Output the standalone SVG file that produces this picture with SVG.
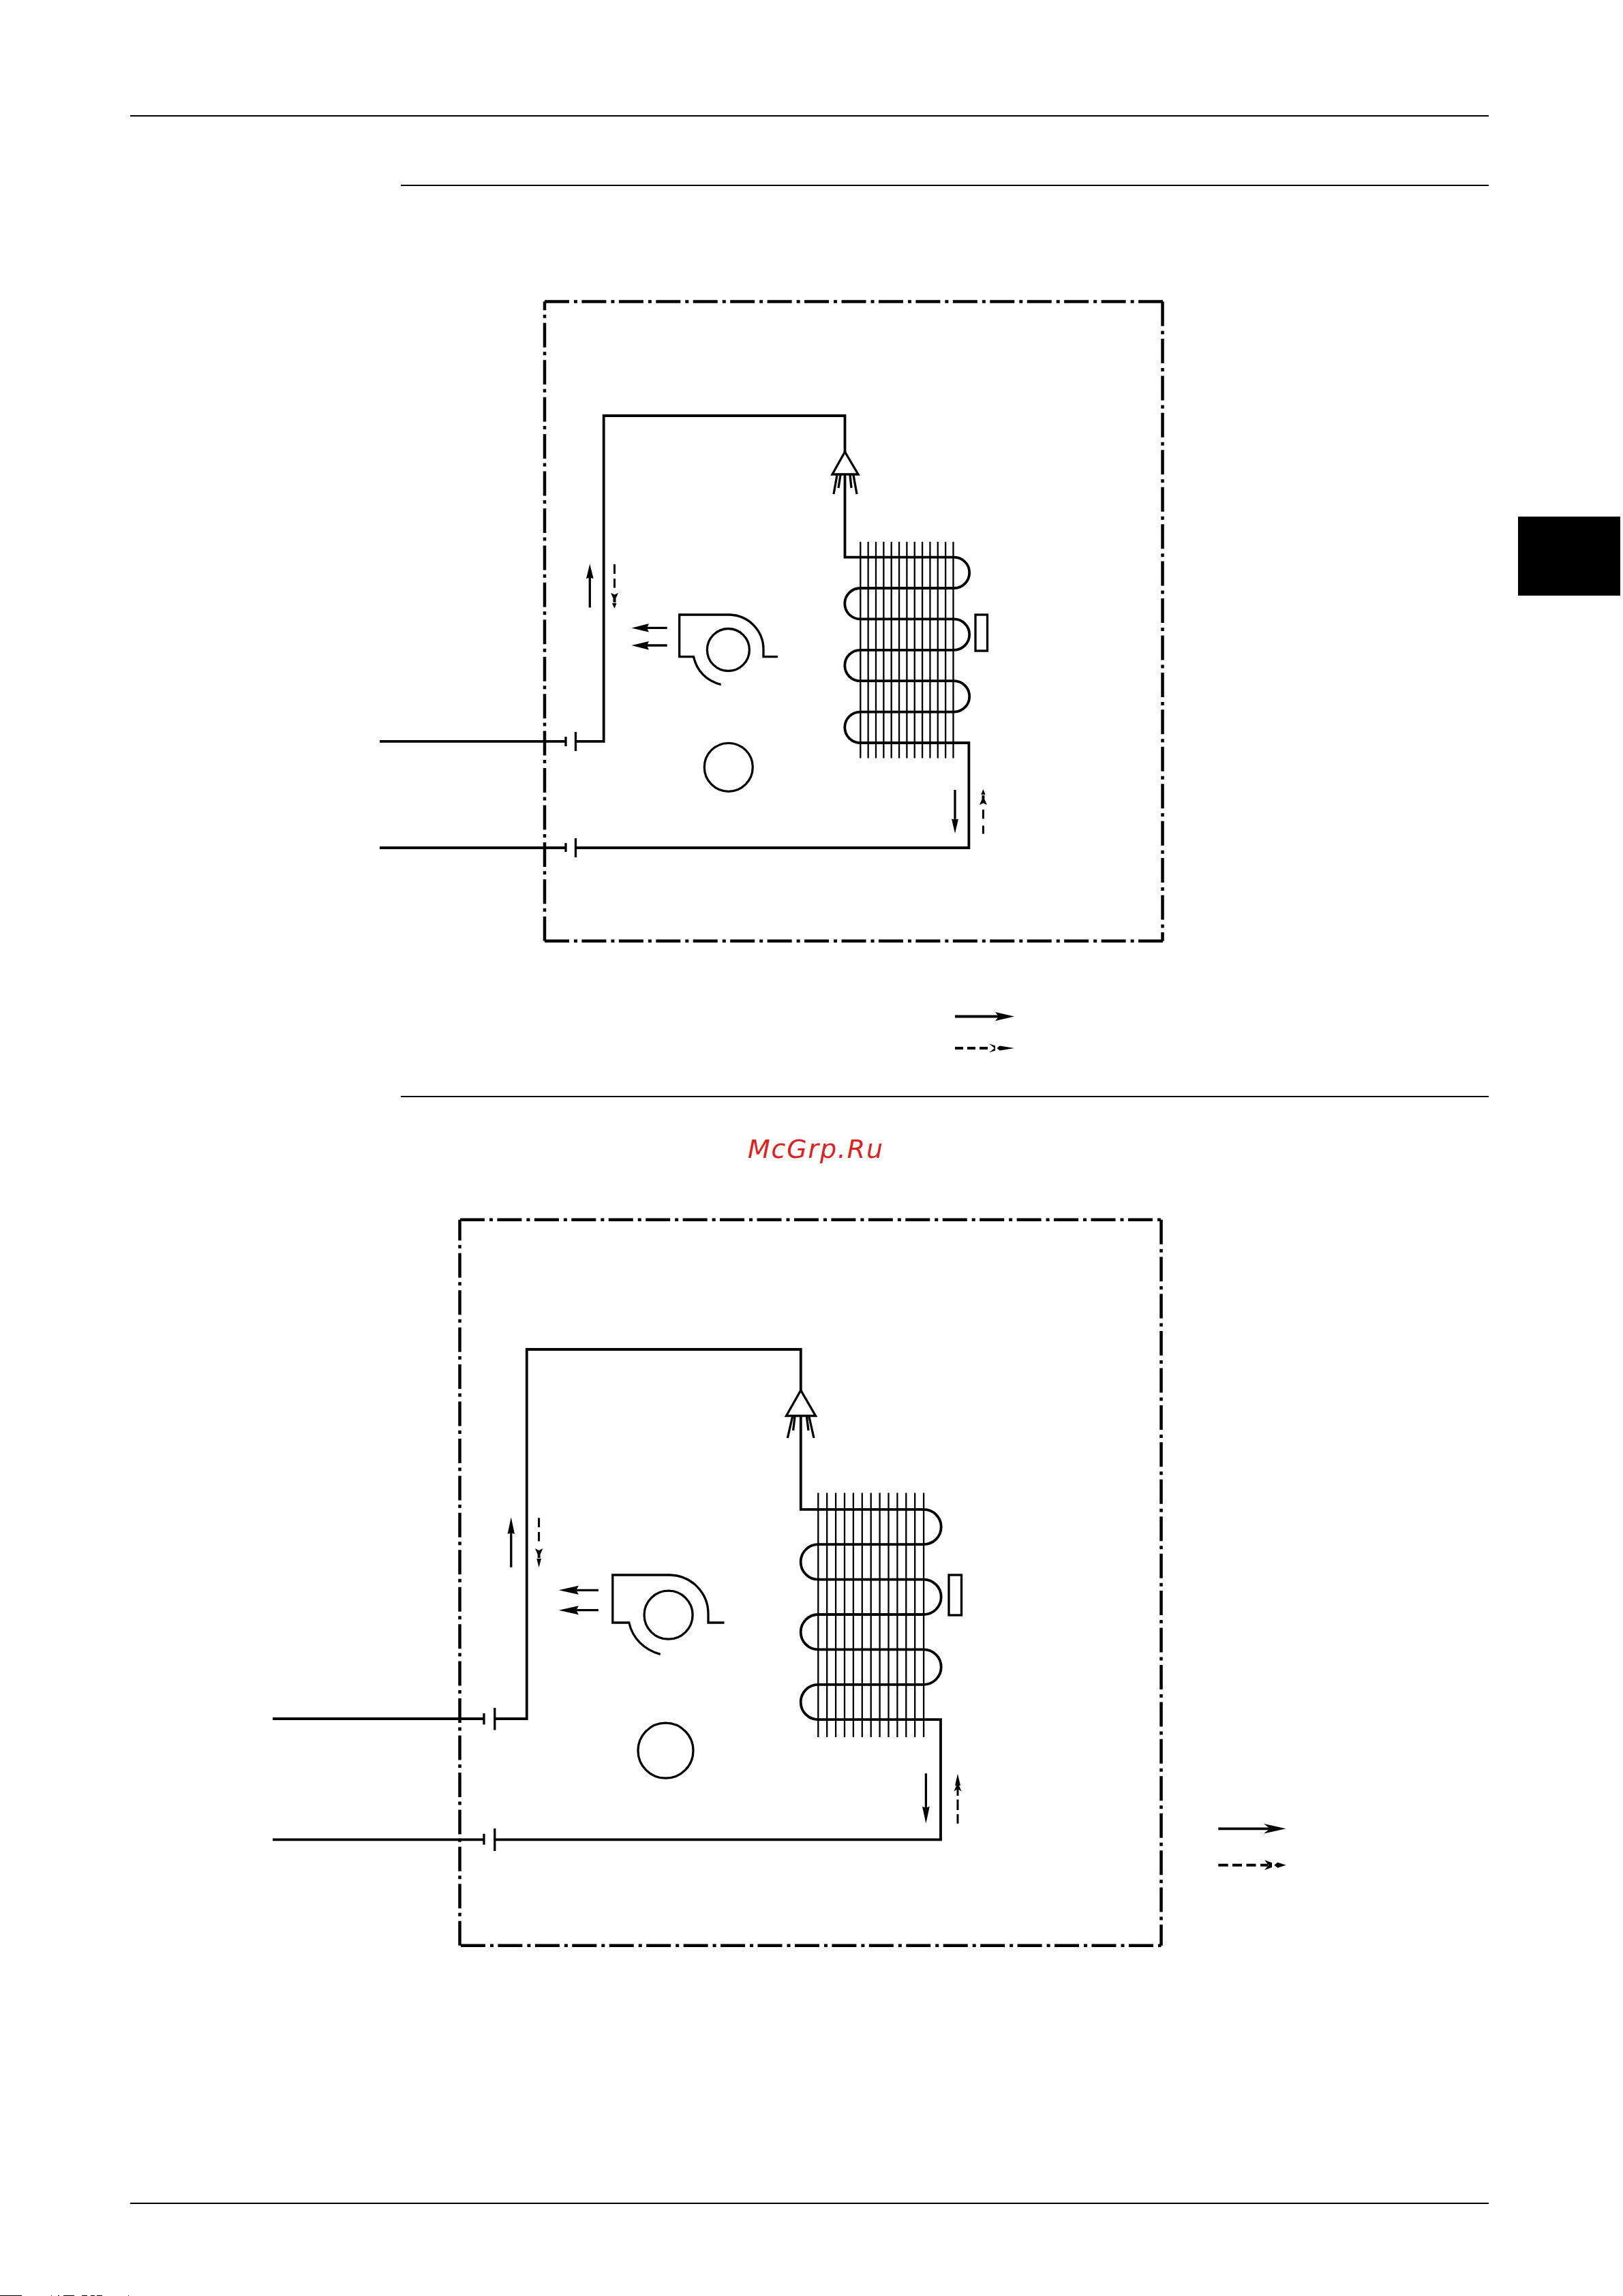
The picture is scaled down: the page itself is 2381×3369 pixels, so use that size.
<svg xmlns="http://www.w3.org/2000/svg" width="2381" height="3369" viewBox="0 0 2381 3369">
<style>
.rule{stroke:#000;stroke-width:2;fill:none}
.frame{stroke:#000;stroke-width:4.5;fill:none;stroke-dasharray:36 7 5 6.44}
.pipe{stroke:#000;stroke-width:3.8;fill:none}
.thin{stroke:#000;stroke-width:2.3;fill:none}
.shaft{stroke:#000;stroke-width:3.3;fill:none}
.part{stroke:#000;stroke-width:3.3;fill:none}
.dash{stroke:#000;stroke-width:3;fill:none}
.ldash{stroke:#000;stroke-width:4;fill:none}
.head{fill:#000;stroke:none}
.wm{font-family:"DejaVu Sans",sans-serif;font-style:italic;font-size:38px;fill:#d92323;letter-spacing:1.8px}
</style>
<rect width="2381" height="3369" fill="#fff"/>
<g id="page-rules">
<path class="rule" d="M191 170H2184M588 272H2184M588 1609H2184M191 3233H2184"/>
<rect x="2227" y="758" width="150" height="116" fill="#000"/>
<path fill="#000" d="M0 3368h32v1H0zM75 3368h1v1h-1zM85 3368h2v1h-2zM93 3368h16v1H93zM120 3368h8v1h-8zM133 3368h6v1h-6zM142 3368h8v1h-8zM188 3368h1v1h-1z"/>
</g>
<text class="wm" x="1097" y="1699">McGrp.Ru</text>

<g id="frame-1">
<path class="frame" d="M799 442.500H1706"/>
<path class="frame" d="M799 1380.800H1706"/>
<path class="frame" d="M799 1380.800V442.500"/>
<path class="frame" d="M1705.500 442.500V1380.800"/>
</g>
<g id="connectors-1">
<path class="pipe" d="M557 1087.800H830M844.500 1087.800H885.700V610H1239.500V663M1239.500 696V817.600H1399.500a22.700 22.700 0 0 1 0 45.400H1262a22.700 22.700 0 0 0 0 45.400H1399.500a22.700 22.700 0 0 1 0 45.400H1262a22.700 22.700 0 0 0 0 45.400H1399.500a22.700 22.700 0 0 1 0 45.400H1262a22.700 22.700 0 0 0 0 45.400H1421.400V1244H844.500M557 1244H830"/>
</g>
<g id="cap-1a"><path class="part" d="M830 1081V1095M844.500 1074V1102"/></g>
<g id="cap-1b"><path class="part" d="M830 1237V1250M844.500 1230V1258"/></g>
<g id="expansion-1">
<path class="part" d="M1239.500 663L1221 696H1259ZM1228 697L1223 725M1233 697L1230 716M1247 697L1249 716M1252 697L1257 725"/>
</g>
<g id="coil-1">
<path class="thin" d="M1262.300 795V1112.400M1273.650 795V1112.400M1285 795V1112.400M1296.350 795V1112.400M1307.700 795V1112.400M1319.050 795V1112.400M1330.400 795V1112.400M1341.750 795V1112.400M1353.100 795V1112.400M1364.450 795V1112.400M1375.800 795V1112.400M1387.150 795V1112.400M1398.500 795V1112.400"/>
</g>
<g id="bulb-1"><rect class="part" x="1431" y="902" width="17.500" height="53"/></g>
<g id="fan-1">
<path class="part" d="M1141 963.600H1120V953A51 51 0 0 0 1071 902H996.700V963.600H1017.500C1022 984 1036 999 1057.700 1004.500"/>
<circle class="part" cx="1068.400" cy="953.500" r="31"/>
</g>
<g id="compressor-1"><circle class="part" cx="1068.800" cy="1125.800" r="35.500"/></g>
<g id="arrows-1">
<path class="shaft" d="M865.300 891.500V845M1401 1159V1205M978.700 921.400H945M978.700 947H945"/>
<path class="head" d="M865.300 827.500L870.700 849L865.300 847.500L860 849ZM1401 1223L1396 1201.500L1401 1203L1406 1201.500ZM926.400 921.400L952 915L949 921.400L952 927.500ZM926.400 947L952 941L949 947L952 953.500Z"/>
<path class="dash" d="M901.500 828V842M901.500 849V862.500"/>
<path class="head" d="M896 870L901.500 872.500L907 870L903.500 878V884H899.500V878ZM898 885H904.500L901.500 893Z"/>
<path class="dash" d="M1442.400 1223.400V1211.500M1442.400 1201.600V1188"/>
<path class="head" d="M1442.400 1158L1439.200 1166H1445.600ZM1437 1181L1442.400 1178.500L1448 1181L1444.400 1173V1167H1440.400V1173Z"/>
</g>
<g id="legend-1">
<path class="pipe" d="M1401 1491.500H1465"/>
<path class="head" d="M1488 1491.500L1460 1485L1465 1491.500L1460 1498Z"/>
<path class="ldash" d="M1401 1538H1413M1419 1538H1431M1437 1538H1449"/>
<path class="head" d="M1462.500 1538L1466.500 1534.500L1488 1538L1466.500 1541.500ZM1459 1538L1451 1531.500L1460 1534.500V1541.500L1451 1544.500Z"/>
</g>

<g id="frame-2">
<path class="frame" d="M675 1789.700H1703.500"/>
<path class="frame" d="M676 2854.700H1703.500"/>
<path class="frame" d="M674.500 2854.700V1789.700"/>
<path class="frame" d="M1703.500 1789.700V2854.700"/>
</g>
<g id="connectors-2">
<path class="pipe" d="M400 2522H710M725.800 2522H772.800V1980H1174.800V2040M1174.800 2077.500V2214.800H1355a25.700 25.700 0 0 1 0 51.400H1200.300a25.700 25.700 0 0 0 0 51.400H1355a25.700 25.700 0 0 1 0 51.400H1200.300a25.700 25.700 0 0 0 0 51.400H1355a25.700 25.700 0 0 1 0 51.400H1200.300a25.700 25.700 0 0 0 0 51.400H1380V2699.300H725.800M400 2699.300H710"/>
</g>
<g id="cap-2a"><path class="part" d="M710 2514V2530.500M725.800 2506V2538.500"/></g>
<g id="cap-2b"><path class="part" d="M710 2690.700V2706.700M725.800 2683V2716"/></g>
<g id="expansion-2">
<path class="part" d="M1174.800 2040L1153.500 2077.500H1196.500ZM1162.500 2079L1155.400 2110M1166 2079L1163.600 2099M1183.500 2079L1186 2099M1187 2079L1194 2110"/>
</g>
<g id="coil-2">
<path class="thin" d="M1200.300 2190.500V2549M1213.200 2190.500V2549M1226.100 2190.500V2549M1239 2190.500V2549M1251.900 2190.500V2549M1264.800 2190.500V2549M1277.700 2190.500V2549M1290.600 2190.500V2549M1303.500 2190.500V2549M1316.400 2190.500V2549M1329.300 2190.500V2549M1342.200 2190.500V2549M1355.100 2190.500V2549"/>
</g>
<g id="bulb-2"><rect class="part" x="1392" y="2311" width="18.500" height="59"/></g>
<g id="fan-2">
<path class="part" d="M1062.500 2381H1039V2368A57 57 0 0 0 983 2311H898.800V2381H922.800C928 2404 945 2421 968.700 2427.400"/>
<circle class="part" cx="980.600" cy="2369.700" r="35.500"/>
</g>
<g id="compressor-2"><circle class="part" cx="976.500" cy="2568.700" r="40.500"/></g>
<g id="arrows-2">
<path class="shaft" d="M749.800 2299.800V2245M1358.400 2602.300V2655M877.900 2333.300H840M877.900 2362.700H840"/>
<path class="head" d="M749.800 2226.300L755 2251L749.800 2249L744.600 2251ZM1358.400 2675.700L1353 2650.700L1358.400 2652.700L1363.800 2650.700ZM819.700 2333.300L848.800 2326.800L845.500 2333.300L848.800 2339.800ZM819.700 2362.700L848.800 2356.200L845.500 2362.700L848.800 2369.200Z"/>
<path class="dash" d="M790.600 2227.200V2241M790.600 2248V2261.600"/>
<path class="head" d="M785 2272L790.600 2275L796.500 2272L792.500 2281V2286H788.700V2281ZM787.300 2287H794L790.600 2300Z"/>
<path class="dash" d="M1405 2675.700V2662M1405 2656V2640.400M1405 2635V2620"/>
<path class="head" d="M1405 2602.800L1401 2620H1409ZM1399.400 2628.500L1405 2625L1410.600 2628.500L1407 2620H1403Z"/>
</g>
<g id="legend-2">
<path class="pipe" d="M1787.300 2683.300H1864"/>
<path class="head" d="M1886.500 2683.300L1854 2676L1863 2683.300L1854 2690.600Z"/>
<path class="ldash" d="M1787.300 2736.700H1801.700M1808 2736.700H1822M1828.500 2736.700H1842.500M1849 2736.700H1860"/>
<path class="head" d="M1869.300 2736.700L1874.300 2732.700L1886.700 2736.700L1874.300 2740.700ZM1861 2736.700L1855 2729.300L1866 2733.300V2740L1855 2744Z"/>
</g>
</svg>
